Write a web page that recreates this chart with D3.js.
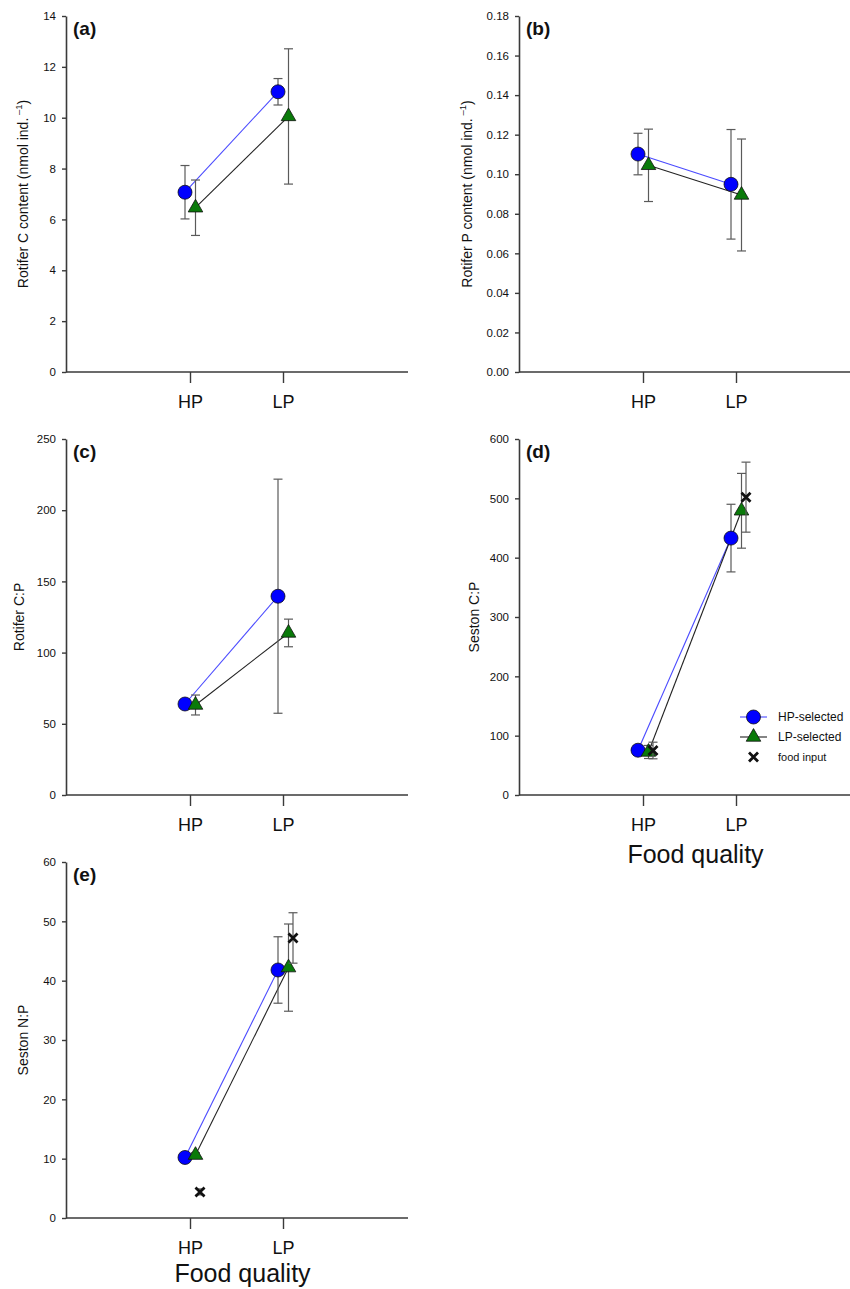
<!DOCTYPE html>
<html>
<head>
<meta charset="utf-8">
<script src="https://cdn.jsdelivr.net/npm/d3@7"></script>
<style>
  html, body { margin: 0; padding: 0; background: #fff; }
  svg { display: block; font-family: "Liberation Sans", Arial, sans-serif; }
</style>
</head>
<body>
<div id="chart"></div>
<script>
/* ── Data (mean ± error) ────────────────────────────────────────────── */
const categories = ['HP', 'LP'];
const seriesNames = ['HP-selected', 'LP-selected', 'food input'];

// (a) Rotifer C content (nmol ind.-1)
const rotC_hpSel    = [7.07, 11.02];
const rotC_hpSelErr = [1.05, 0.52];
const rotC_lpSel    = [6.46, 10.05];
const rotC_lpSelErr = [1.09, 2.66];

// (b) Rotifer P content (nmol ind.-1)
const rotP_hpSel    = [0.1102, 0.0949];
const rotP_hpSelErr = [0.0105, 0.0277];
const rotP_lpSel    = [0.1045, 0.0895];
const rotP_lpSelErr = [0.0183, 0.0283];

// (c) Rotifer C:P
const rotCP_hpSel    = [63.9, 139.6];
const rotCP_hpSelErr = [3, 82.2];
const rotCP_lpSel    = [63.2, 113.8];
const rotCP_lpSelErr = [7, 9.7];

// (d) Seston C:P
const sesCP_hpSel     = [75.5, 433];
const sesCP_hpSelErr  = [5, 57];
const sesCP_lpSel     = [72.5, 479];
const sesCP_lpSelErr  = [11, 63];
const sesCP_food      = [75, 502];
const sesCP_foodErr   = [14, 59];

// (e) Seston N:P
const sesNP_hpSel     = [10.2, 41.8];
const sesNP_hpSelErr  = [0.4, 5.6];
const sesNP_lpSel     = [10.6, 42.2];
const sesNP_lpSelErr  = [0.4, 7.35];
const sesNP_food      = [4.4, 47.2];
const sesNP_foodErr   = [0.5, 4.25];

/* ── Styling ────────────────────────────────────────────────────────── */
const COL = {
  axis: '#3a3a3a',
  err: '#5a5a5a',
  blue: '#0000ff',
  blueLine: '#4a4aff',
  green: '#0a7a0a',
  black: '#111'
};
const AXIS_W = 342;           // length of each x axis
const HP_OFF = 124, LP_OFF = 217;

const panels = [
  { tag: '(a)', left: 66,  top: 16,  bottom: 372,  yMax: 14,   step: 2,    fmt: d3.format('d'),
    label: 'rotC', labelX: 23,
    hp: rotC_hpSel, hpErr: rotC_hpSelErr, lp: rotC_lpSel, lpErr: rotC_lpSelErr },
  { tag: '(b)', left: 519, top: 16,  bottom: 372,  yMax: 0.18, step: 0.02, fmt: d3.format('.2f'),
    label: 'rotP', labelX: 467,
    hp: rotP_hpSel, hpErr: rotP_hpSelErr, lp: rotP_lpSel, lpErr: rotP_lpSelErr },
  { tag: '(c)', left: 66,  top: 439, bottom: 795,  yMax: 250,  step: 50,   fmt: d3.format('d'),
    label: 'Rotifer C:P', labelX: 19,
    hp: rotCP_hpSel, hpErr: rotCP_hpSelErr, lp: rotCP_lpSel, lpErr: rotCP_lpSelErr },
  { tag: '(d)', left: 519, top: 439, bottom: 795,  yMax: 600,  step: 100,  fmt: d3.format('d'),
    label: 'Seston C:P', labelX: 474, legend: true, xTitle: 68,
    hp: sesCP_hpSel, hpErr: sesCP_hpSelErr, lp: sesCP_lpSel, lpErr: sesCP_lpSelErr,
    food: sesCP_food, foodErr: sesCP_foodErr },
  { tag: '(e)', left: 66,  top: 862, bottom: 1218, yMax: 60,   step: 10,   fmt: d3.format('d'),
    label: 'Seston N:P', labelX: 23, xTitle: 64,
    hp: sesNP_hpSel, hpErr: sesNP_hpSelErr, lp: sesNP_lpSel, lpErr: sesNP_lpSelErr,
    food: sesNP_food, foodErr: sesNP_foodErr }
];

const svg = d3.select('#chart').append('svg')
  .attr('width', 850).attr('height', 1289)
  .attr('viewBox', '0 0 850 1289');

panels.forEach(p => drawPanel(svg, p));

/* ── Panel ──────────────────────────────────────────────────────────── */
function drawPanel(svg, p) {
  const g = svg.append('g');

  const x = d3.scalePoint().domain(categories).range([p.left + HP_OFF, p.left + LP_OFF]);
  const y = d3.scaleLinear().domain([0, p.yMax]).range([p.bottom, p.top]);

  // y axis
  g.append('g')
    .attr('transform', `translate(${p.left},0)`)
    .call(d3.axisLeft(y)
      .tickValues(d3.range(0, p.yMax + p.step / 2, p.step))
      .tickFormat(p.fmt).tickSize(4).tickSizeOuter(0).tickPadding(6))
    .call(sel => sel.selectAll('text').attr('font-size', '11.5px').attr('fill', '#111'))
    .call(_styleAxis);

  // x axis
  g.append('g')
    .attr('transform', `translate(0,${p.bottom})`)
    .call(d3.axisBottom(x).tickSize(11).tickSizeOuter(0))
    .call(sel => sel.select('.domain').remove())
    .call(sel => sel.selectAll('text')
      .attr('y', 36).attr('dy', 0).attr('font-size', '18px').attr('fill', '#111'))
    .call(_styleAxis);

  g.append('line')
    .attr('x1', p.left).attr('x2', p.left + AXIS_W)
    .attr('y1', p.bottom).attr('y2', p.bottom)
    .attr('stroke', COL.axis).attr('stroke-width', 1.6);

  // panel tag
  g.append('text')
    .attr('x', p.left + 7).attr('y', p.top + 19)
    .attr('font-size', '19px').attr('font-weight', 'bold').attr('fill', '#111')
    .text(p.tag);

  // y label
  const yl = g.append('text')
    .attr('transform', `translate(${p.labelX},${(p.top + p.bottom) / 2}) rotate(-90)`)
    .attr('text-anchor', 'middle').attr('dominant-baseline', 'central')
    .attr('font-size', '14px').attr('fill', '#111');
  if (p.label === 'rotC' || p.label === 'rotP') {
    yl.append('tspan').text(`Rotifer ${p.label === 'rotC' ? 'C' : 'P'} content (nmol ind.`);
    yl.append('tspan').attr('font-size', '9.5px').attr('baseline-shift', '45%').text(' \u20131');
    yl.append('tspan').text(')');
  } else {
    yl.text(p.label);
  }

  // x title
  if (p.xTitle) {
    g.append('text')
      .attr('x', (x('HP') + x('LP')) / 2 + 6).attr('y', p.bottom + p.xTitle)
      .attr('text-anchor', 'middle').attr('font-size', '25px').attr('fill', '#111')
      .text('Food quality');
  }

  // connecting lines
  const line = d3.line().x(d => d[0]).y(d => d[1]);
  const hpPts = categories.map((c, i) => [x(c) - 5, y(p.hp[i])]);
  const lpPts = categories.map((c, i) => [x(c) + 5.5, y(p.lp[i])]);
  g.append('path').attr('d', line(hpPts)).attr('fill', 'none')
    .attr('stroke', COL.blueLine).attr('stroke-width', 1.1);
  g.append('path').attr('d', line(lpPts)).attr('fill', 'none')
    .attr('stroke', '#222').attr('stroke-width', 1.1);

  // series: error bars + markers
  _errorBars(g, x, y, p.hp, p.hpErr, -5);
  _circles(g, hpPts);
  _errorBars(g, x, y, p.lp, p.lpErr, 5.5);
  _triangles(g, lpPts);
  if (p.food) {
    _errorBars(g, x, y, p.food, p.foodErr, 10);
    _crosses(g, categories.map((c, i) => [x(c) + 10, y(p.food[i])]));
  }

  if (p.legend) _legend(g);
}

/* ── Helpers ────────────────────────────────────────────────────────── */
function _styleAxis(sel) {
  sel.select('.domain').attr('stroke', COL.axis).attr('stroke-width', 1.6);
  sel.selectAll('.tick line').attr('stroke', COL.axis).attr('stroke-width', 1.4);
  sel.selectAll('text').attr('font-family', '"Liberation Sans", Arial, sans-serif');
}

function _errorBars(g, x, y, vals, errs, dx) {
  categories.forEach((c, i) => {
    const cx = x(c) + dx;
    const y0 = y(vals[i] - errs[i]), y1 = y(vals[i] + errs[i]);
    g.append('line').attr('x1', cx).attr('x2', cx).attr('y1', y0).attr('y2', y1)
      .attr('stroke', COL.err).attr('stroke-width', 1.2);
    [y0, y1].forEach(yy => g.append('line')
      .attr('x1', cx - 4.5).attr('x2', cx + 4.5).attr('y1', yy).attr('y2', yy)
      .attr('stroke', COL.err).attr('stroke-width', 1.2));
  });
}

function _circles(g, pts) {
  g.selectAll(null).data(pts).join('circle')
    .attr('cx', d => d[0]).attr('cy', d => d[1]).attr('r', 7)
    .attr('fill', COL.blue).attr('stroke', '#111').attr('stroke-width', 0.8);
}

function _triangles(g, pts) {
  const sym = d3.symbol(d3.symbolTriangle, 92);
  g.selectAll(null).data(pts).join('path')
    .attr('d', sym)
    .attr('transform', d => `translate(${d[0]},${d[1]})`)
    .attr('fill', COL.green).attr('stroke', '#111').attr('stroke-width', 0.8);
}

function _crosses(g, pts) {
  const s = 4.5;
  pts.forEach(([cx, cy]) => {
    g.append('path')
      .attr('d', `M${cx - s},${cy - s}L${cx + s},${cy + s}M${cx - s},${cy + s}L${cx + s},${cy - s}`)
      .attr('stroke', COL.black).attr('stroke-width', 2.8).attr('fill', 'none');
  });
}

function _legend(g) {
  const lx = 740, lw = 27, tx = 778;
  const rows = [717, 737, 757];
  // HP-selected
  g.append('line').attr('x1', lx).attr('x2', lx + lw).attr('y1', rows[0]).attr('y2', rows[0])
    .attr('stroke', COL.blueLine).attr('stroke-width', 1.1);
  _circles(g, [[lx + lw / 2, rows[0]]]);
  // LP-selected
  g.append('line').attr('x1', lx).attr('x2', lx + lw).attr('y1', rows[1]).attr('y2', rows[1])
    .attr('stroke', '#222').attr('stroke-width', 1.1);
  _triangles(g, [[lx + lw / 2, rows[1]]]);
  // food input
  _crosses(g, [[lx + lw / 2, rows[2]]]);

  seriesNames.forEach((name, i) => {
    g.append('text')
      .attr('x', tx).attr('y', rows[i])
      .attr('dominant-baseline', 'central')
      .attr('font-size', i === 2 ? '11px' : '12px').attr('fill', '#111')
      .text(name);
  });
}
</script>
</body>
</html>
